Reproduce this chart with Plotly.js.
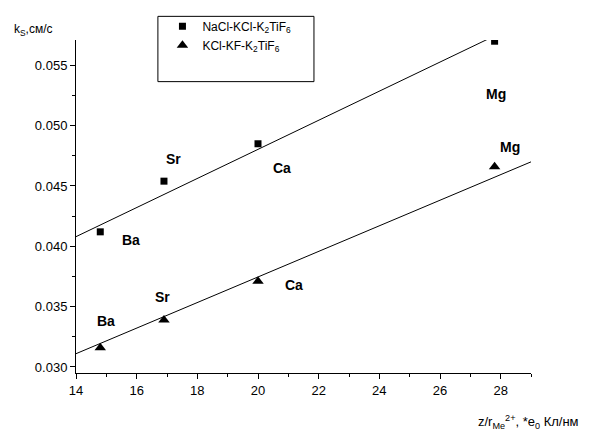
<!DOCTYPE html>
<html>
<head>
<meta charset="utf-8">
<script src="https://cdn.plot.ly/plotly-3.0.1.min.js"></script>
<style>html,body{margin:0;padding:0;background:#fff;}#chart{width:599px;height:434px;}</style>
</head>
<body>
<div id="chart"></div>
<script>
// Data
const elements = ["Ba", "Sr", "Ca", "Mg"];
const xValues = [14.8, 16.9, 20.0, 27.8];
const naclValues = [0.0412, 0.0454, 0.0485, 0.0570];
const kclValues = [0.0316, 0.0339, 0.0371, 0.0466];

// Fitted lines (endpoints)
const naclFitX = [14, 27.6];
const naclFitY = [0.0408, 0.0572];
const kclFitX = [14, 29];
const kclFitY = [0.0311, 0.0470];

// Label positions (data coords)
const naclLabelX = [15.8, 17.2, 20.8, 27.85];
const naclLabelY = [0.0405, 0.0472, 0.0465, 0.0526];
const kclLabelX = [15.0, 16.85, 21.2, 28.3];
const kclLabelY = [0.0338, 0.0358, 0.0368, 0.0482];

const font = "Arial";

const traces = [
  {x: xValues, y: naclValues, mode: "markers", type: "scatter",
   name: "NaCl-KCl-K<sub>2</sub>TiF<sub>6</sub>",
   marker: {symbol: "square", size: 7, color: "#000"}},
  {x: xValues, y: kclValues, mode: "markers", type: "scatter",
   name: "KCl-KF-K<sub>2</sub>TiF<sub>6</sub>",
   marker: {symbol: "triangle-up", size: 10, color: "#000"}},
  {x: naclFitX, y: naclFitY, mode: "lines", type: "scatter", showlegend: false,
   line: {color: "#000", width: 1}, cliponaxis: true},
  {x: kclFitX, y: kclFitY, mode: "lines", type: "scatter", showlegend: false,
   line: {color: "#000", width: 1}, cliponaxis: true}
];

const annotations = [];
elements.forEach((el, i) => {
  annotations.push({x: naclLabelX[i], y: naclLabelY[i], xref: "x", yref: "y", text: "<b>" + el + "</b>",
    showarrow: false, font: {family: font, size: 14, color: "#000"}});
  annotations.push({x: kclLabelX[i], y: kclLabelY[i], xref: "x", yref: "y", text: "<b>" + el + "</b>",
    showarrow: false, font: {family: font, size: 14, color: "#000"}});
});
annotations.push({xref: "paper", yref: "paper", x: -0.141, y: 1.0, xanchor: "left", yanchor: "bottom",
  text: "k<sub>S</sub>,см/с", showarrow: false, font: {family: font, size: 12, color: "#000"}});
annotations.push({xref: "paper", yref: "paper", x: 0.88, y: -0.115, xanchor: "left", yanchor: "top",
  text: "z/r<sub>Me</sub><sup>2+</sup>, *e<sub>0</sub> Кл/нм", showarrow: false, font: {family: font, size: 13, color: "#000"}});

const layout = {
  width: 599, height: 434,
  margin: {l: 76, r: 68, t: 37, b: 61},
  paper_bgcolor: "#fff", plot_bgcolor: "#fff",
  font: {family: font, size: 12, color: "#000"},
  showlegend: true,
  legend: {x: 0.19, y: 1.085, xanchor: "left", yanchor: "top", bgcolor: "rgba(0,0,0,0)",
    borderwidth: 0, font: {family: font, size: 12, color: "#000"}, tracegroupgap: 0},
  xaxis: {range: [14, 29], showgrid: false, zeroline: false, showline: true, linecolor: "#000", linewidth: 1,
    ticks: "outside", ticklen: 5, tickcolor: "#000", tickmode: "linear", tick0: 14, dtick: 2,
    minor: {dtick: 1, ticks: "outside", ticklen: 3, tickcolor: "#000"},
    tickfont: {family: font, size: 13}},
  yaxis: {range: [0.0295, 0.0571], showgrid: false, zeroline: false, showline: true, linecolor: "#000", linewidth: 1,
    ticks: "outside", ticklen: 5, tickcolor: "#000", tickmode: "linear", tick0: 0.03, dtick: 0.005,
    tickformat: ".3f",
    minor: {dtick: 0.0025, ticks: "outside", ticklen: 3, tickcolor: "#000"},
    tickfont: {family: font, size: 13}},
  shapes: [{type: "rect", xref: "paper", yref: "paper", x0: 0.180, x1: 0.523, y0: 0.875, y1: 1.071,
    line: {color: "#000", width: 1}, fillcolor: "rgba(0,0,0,0)"}],
  annotations: annotations
};

Plotly.newPlot("chart", traces, layout, {displayModeBar: false});
</script>
</body>
</html>
